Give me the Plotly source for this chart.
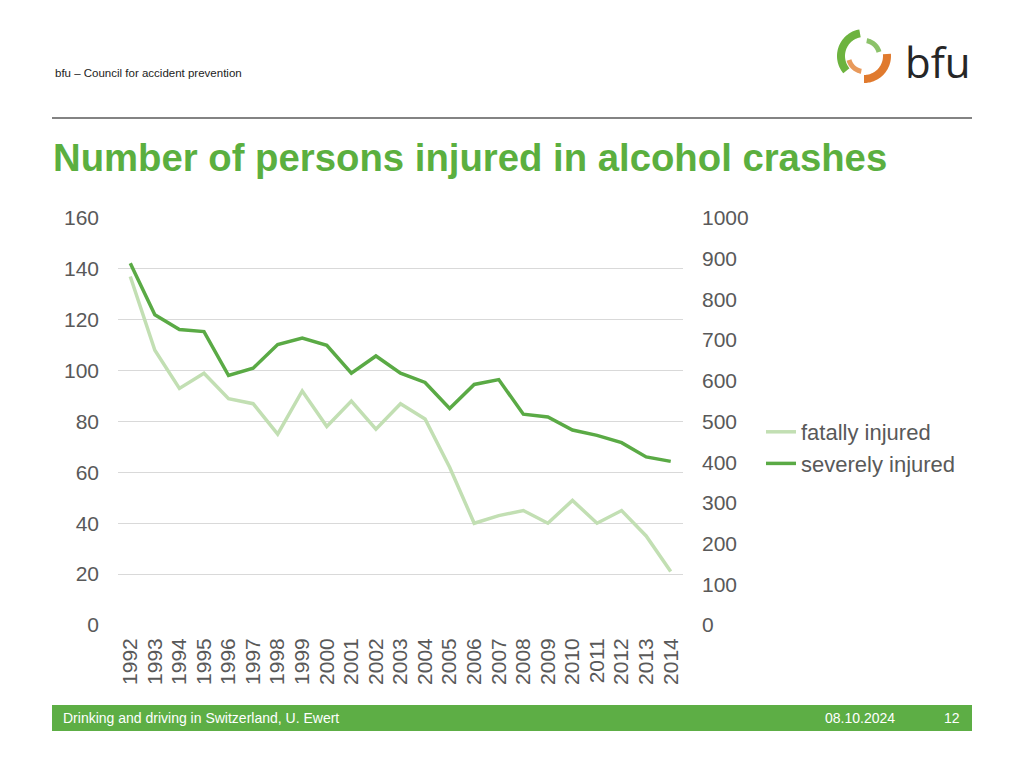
import numpy as np
import plotly.graph_objects as go

years = [str(y) for y in range(1992, 2015)]
fatally_injured = [137, 108, 93, 99, 89, 87, 75, 92, 78, 88, 77, 87, 81, 62, 40, 43, 45, 40, 49, 40, 45, 35, 21]
severely_injured = [889, 762, 726, 721, 613, 631, 689, 705, 687, 619, 661, 619, 596, 532, 591, 603, 518, 511, 479, 466, 448, 413, 402]
left_ticks = list(range(0, 161, 20))
right_ticks = list(range(0, 1001, 100))

W, H = 1024, 768
L, R, T, B = 118, 683, 218, 625


def px(x):
    return (x - L) / (R - L)


def py(y):
    return (B - y) / (B - T)


FONT = "Liberation Sans, Arial, sans-serif"
LIGHT = "#C2DFB3"
DARK = "#5AAA45"
GREY = "#595959"

fig = go.Figure()
fig.add_trace(go.Scatter(x=years, y=fatally_injured, name="fatally injured", mode="lines",
                         line=dict(color=LIGHT, width=3.5), yaxis="y"))
fig.add_trace(go.Scatter(x=years, y=severely_injured, name="severely injured", mode="lines",
                         line=dict(color=DARK, width=3.5), yaxis="y2"))

shapes = []
annotations = []

# header line
shapes.append(dict(type="line", xref="paper", yref="paper", x0=px(52), x1=px(972), y0=py(118), y1=py(118),
                   line=dict(color="#5a5a5a", width=1.5)))
# footer bar
shapes.append(dict(type="rect", xref="paper", yref="paper", x0=px(52), x1=px(972), y0=py(705), y1=py(731),
                   fillcolor="#5DAE45", line=dict(width=0), layer="below"))


# logo arcs
def arc_path(cx, cy, r_out, r_in, a0, a1, n=40):
    a = np.radians(np.linspace(a0, a1, n))
    outer = [(cx + r_out * np.cos(t), cy - r_out * np.sin(t)) for t in a]
    inner = [(cx + r_in * np.cos(t), cy - r_in * np.sin(t)) for t in a[::-1]]
    pts = outer + inner
    s = "M " + " L ".join(f"{px(x):.5f},{py(y):.5f}" for x, y in pts) + " Z"
    return s


cx, cy = 864, 56
shapes.append(dict(type="path", xref="paper", yref="paper", path=arc_path(cx, cy, 27, 19, 100, 220),
                   fillcolor="#6DB33F", line=dict(width=0)))
shapes.append(dict(type="path", xref="paper", yref="paper", path=arc_path(cx, cy, 27, 19, -90, 5),
                   fillcolor="#E07A2E", line=dict(width=0)))
shapes.append(dict(type="path", xref="paper", yref="paper", path=arc_path(cx, cy, 18, 13, 15, 80),
                   fillcolor="#8CC26A", line=dict(width=0)))
shapes.append(dict(type="path", xref="paper", yref="paper", path=arc_path(cx, cy, 18, 13, 195, 260),
                   fillcolor="#E89A5C", line=dict(width=0)))

annotations.append(dict(text="bfu", xref="paper", yref="paper", x=px(903), y=py(62), xanchor="left",
                        yanchor="middle", showarrow=False,
                        font=dict(family="Open Sans, sans-serif", size=42, color="#262626")))
annotations.append(dict(text="bfu – Council for accident prevention", xref="paper", yref="paper",
                        x=px(53), y=py(73), xanchor="left", yanchor="middle", showarrow=False,
                        font=dict(family=FONT, size=11.5, color="#222222")))
annotations.append(dict(text="<b>Number of persons injured in alcohol crashes</b>", xref="paper", yref="paper",
                        x=px(51), y=py(157), xanchor="left", yanchor="middle", showarrow=False,
                        font=dict(family=FONT, size=38.3, color="#5BAF3F")))
annotations.append(dict(text="Drinking and driving in Switzerland, U. Ewert", xref="paper", yref="paper",
                        x=px(61), y=py(718), xanchor="left", yanchor="middle", showarrow=False,
                        font=dict(family=FONT, size=14, color="white")))
annotations.append(dict(text="08.10.2024", xref="paper", yref="paper",
                        x=px(897), y=py(718), xanchor="right", yanchor="middle", showarrow=False,
                        font=dict(family=FONT, size=14, color="white")))
annotations.append(dict(text="12", xref="paper", yref="paper",
                        x=px(962), y=py(718), xanchor="right", yanchor="middle", showarrow=False,
                        font=dict(family=FONT, size=14, color="white")))

fig.update_layout(
    width=W, height=H, autosize=False,
    margin=dict(l=L, r=W - R, t=T, b=H - B, pad=0),
    paper_bgcolor="white", plot_bgcolor="white",
    font=dict(family=FONT, color=GREY),
    showlegend=True,
    legend=dict(x=px(761), y=py(411), xanchor="left", yanchor="top", bgcolor="rgba(0,0,0,0)",
                font=dict(size=22, color=GREY), itemwidth=30, tracegroupgap=0),
    xaxis=dict(type="category", range=[-0.5, 22.5], tickmode="array", tickvals=years, ticktext=years,
               tickangle=-90, showgrid=False, zeroline=False,
               showline=False, ticks="", tickfont=dict(size=21, color=GREY), ticklabelstandoff=8),
    yaxis=dict(range=[0, 160], tickvals=left_ticks, showgrid=True, gridcolor="#D9D9D9", gridwidth=1,
               zeroline=False, showline=False, ticks="", tickfont=dict(size=21, color=GREY),
               ticklabelstandoff=18),
    yaxis2=dict(range=[0, 1000], tickvals=right_ticks, overlaying="y", side="right", showgrid=False,
                zeroline=False, showline=False, ticks="", tickfont=dict(size=21, color=GREY),
                ticklabelstandoff=18),
    shapes=shapes,
    annotations=annotations,
)

fig.write_html("out.html", config={"displayModeBar": False},
               post_script="document.body.style.margin='0';document.body.style.overflow='hidden';")
